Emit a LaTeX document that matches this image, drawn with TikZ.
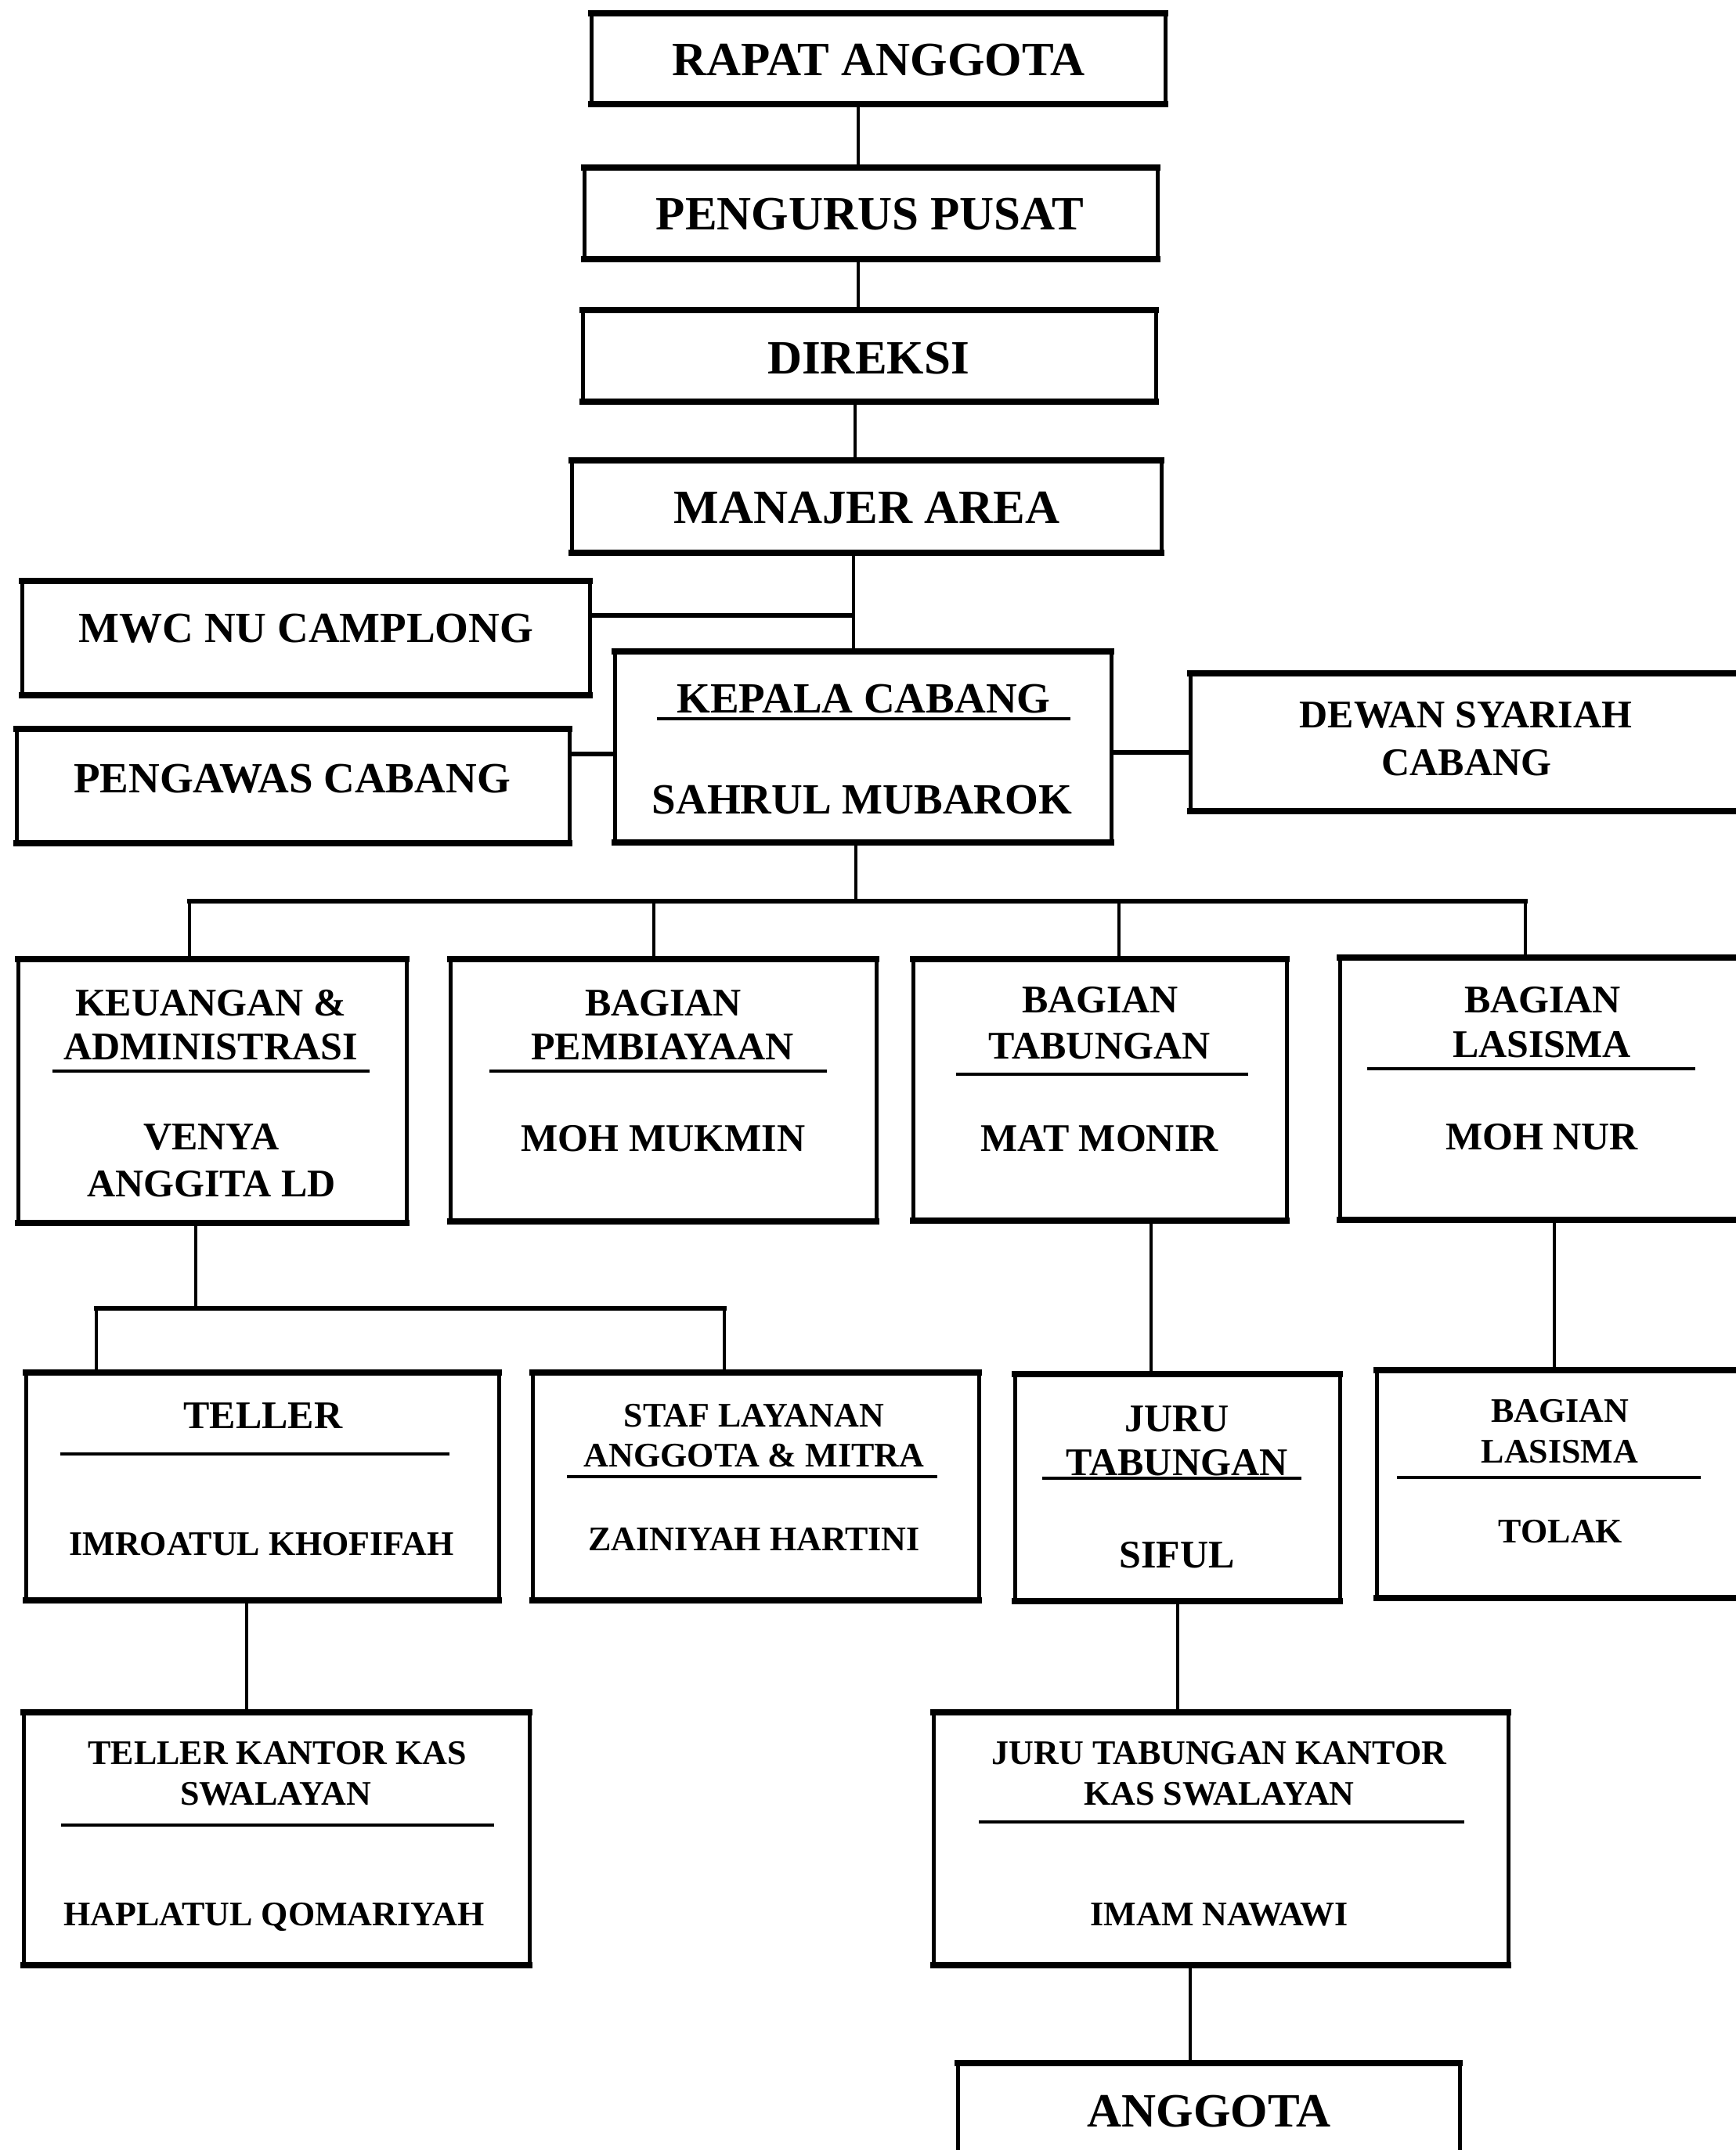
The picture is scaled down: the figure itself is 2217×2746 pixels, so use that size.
\documentclass[tikz,border=0pt]{standalone}
\usepackage{fontspec}
\setmainfont{Liberation Serif}
\newcommand\fA{\fontsize{18.3}{21}\selectfont\bfseries}
\newcommand\fB{\fontsize{16.5}{19}\selectfont\bfseries}
\newcommand\fC{\fontsize{15}{17}\selectfont\bfseries}
\newcommand\fD{\fontsize{13.2}{15}\selectfont\bfseries}
\newcommand\mybox[5]{%
  \node[box, minimum width={(#4-#2)*0.3pt}, minimum height={(#5-#3)*0.3pt}] (#1) at ({(#2+#4)/2},{(#3+#5)/2}) {};
  \draw[thickedge] (#1.north west) -- (#1.north east) (#1.south west) -- (#1.south east);}
\begin{document}
\begin{tikzpicture}[x=0.3pt,y=-0.3pt,
 box/.style={draw,line width=1.5pt,inner sep=0pt,outer sep=0pt},
 thickedge/.style={line width=2.4pt,line cap=rect},
 tA/.style={font=\fA,inner sep=0pt,anchor=base,yshift=-6pt},
 tB/.style={font=\fB,inner sep=0pt,anchor=base,yshift=-5.4pt},
 tC/.style={font=\fC,inner sep=0pt,anchor=base,yshift=-4.95pt},
 tD/.style={font=\fD,inner sep=0pt,anchor=base,yshift=-4.4pt},
 vl/.style={line width=1pt},
 hl/.style={line width=1.8pt},
 ul/.style={line width=1.4pt}]
\fill[white] (0,0) rectangle (2217,2746);
\useasboundingbox (0,0) rectangle (2217,2746);
\clip (0,0) rectangle (2217,2746);

% boxes
\mybox{ra}{755}{17}{1488}{133}
\mybox{pp}{746}{214}{1478}{331}
\mybox{dir}{744}{396}{1476}{513}
\mybox{ma}{730}{588}{1483}{706}
\mybox{mwc}{28}{742}{753}{888}
\mybox{kc}{785}{832}{1419}{1076}
\mybox{pc}{21}{931}{727}{1077}
\mybox{dsc}{1520}{860}{2240}{1036}
\mybox{keu}{23}{1225}{519}{1562}
\mybox{pem}{575}{1225}{1119}{1560}
\mybox{tab}{1166}{1225}{1643}{1559}
\mybox{las}{1711}{1223}{2240}{1558}
\mybox{tel}{33}{1753}{637}{2044}
\mybox{staf}{680}{1753}{1250}{2044}
\mybox{jt}{1296}{1755}{1711}{2045}
\mybox{lasb}{1758}{1750}{2240}{2041}
\mybox{tkk}{30}{2187}{676}{2510}
\mybox{jtk}{1192}{2187}{1926}{2510}
\mybox{ang}{1223}{2635}{1864}{2790}

% texts
\node[tA] (t1) at (1122,77) {RAPAT ANGGOTA};
\node[tA] (t2) at (1111,273) {PENGURUS PUSAT};
\node[tA] (t3) at (1109,457) {DIREKSI};
\node[tA] (t4) at (1107,648) {MANAJER AREA};
\node[tB] (t5) at (391,802) {MWC NU CAMPLONG};
\node[tB] (t6) at (1103,892) {KEPALA CABANG};
\node[tB] (t7) at (1101,1021) {SAHRUL MUBAROK};
\node[tB] (t8) at (373,994) {PENGAWAS CABANG};
\node[tC] (t9) at (1872,913) {DEWAN SYARIAH};
\node[tC] (t10) at (1873,974) {CABANG};
\node[tC] (t11) at (269,1281) {KEUANGAN \&};
\node[tC] (t12) at (269,1337) {ADMINISTRASI};
\node[tC] (t13) at (270,1452) {VENYA};
\node[tC] (t14) at (270,1512) {ANGGITA LD};
\node[tC] (t15) at (847,1281) {BAGIAN};
\node[tC] (t16) at (846,1337) {PEMBIAYAAN};
\node[tC] (t17) at (847,1454) {MOH MUKMIN};
\node[tC] (t18) at (1405,1277) {BAGIAN};
\node[tC] (t19) at (1404,1336) {TABUNGAN};
\node[tC] (t20) at (1404,1454) {MAT MONIR};
\node[tC] (t21) at (1970,1277) {BAGIAN};
\node[tC] (t22) at (1969,1334) {LASISMA};
\node[tC] (t23) at (1969,1452) {MOH NUR};
\node[tC] (t24) at (336,1808) {TELLER};
\node[tD] (t25) at (334,1972) {IMROATUL KHOFIFAH};
\node[tD] (t26) at (963,1808) {STAF LAYANAN};
\node[tD] (t27) at (963,1859) {ANGGOTA \& MITRA};
\node[tD] (t28) at (963,1966) {ZAINIYAH HARTINI};
\node[tC] (t29) at (1503,1812) {JURU};
\node[tC] (t30) at (1503,1868) {TABUNGAN};
\node[tC] (t31) at (1503,1986) {SIFUL};
\node[tD] (t32) at (1992,1802) {BAGIAN};
\node[tD] (t33) at (1992,1854) {LASISMA};
\node[tD] (t34) at (1993,1956) {TOLAK};
\node[tD] (t35) at (354,2239) {TELLER KANTOR KAS};
\node[tD] (t36) at (352,2291) {SWALAYAN};
\node[tD] (t37) at (350,2445) {HAPLATUL QOMARIYAH};
\node[tD] (t38) at (1557,2239) {JURU TABUNGAN KANTOR};
\node[tD] (t39) at (1557,2291) {KAS SWALAYAN};
\node[tD] (t40) at (1557,2445) {IMAM NAWAWI};
\node[tA] (t41) at (1544,2696) {ANGGOTA};

% underlines
\coordinate (u1a) at (839,918);  \coordinate (u1b) at (1367,918);
\coordinate (u2a) at (67,1368);  \coordinate (u2b) at (472,1368);
\coordinate (u3a) at (625,1368); \coordinate (u3b) at (1056,1368);
\coordinate (u4a) at (1221,1372); \coordinate (u4b) at (1594,1372);
\coordinate (u5a) at (1746,1365); \coordinate (u5b) at (2165,1365);
\coordinate (u6a) at (77,1857);  \coordinate (u6b) at (574,1857);
\coordinate (u7a) at (724,1886); \coordinate (u7b) at (1197,1886);
\coordinate (u8a) at (1331,1888); \coordinate (u8b) at (1662,1888);
\coordinate (u9a) at (1784,1887); \coordinate (u9b) at (2172,1887);
\coordinate (u10a) at (78,2331); \coordinate (u10b) at (631,2331);
\coordinate (u11a) at (1250,2327); \coordinate (u11b) at (1870,2327);
\foreach \i in {1,...,11} \draw[ul] (u\i a) -- (u\i b);

% connector reference points
\coordinate (c1) at (1096,0);
\coordinate (c2) at (1092,0);
\coordinate (cm) at (1090,786);
\coordinate (cp) at (0,963);
\coordinate (cd) at (0,961);
\coordinate (b0) at (1093,1151);
\coordinate (bL) at (242,1151);
\coordinate (b2) at (835,1151);
\coordinate (b3) at (1429,1151);
\coordinate (bR) at (1948,1151);
\coordinate (k0) at (250,1671);
\coordinate (kL) at (123,1671);
\coordinate (kR) at (925,1671);
\coordinate (x1) at (1470,0);
\coordinate (x2) at (1985,0);
\coordinate (x3) at (315,0);
\coordinate (x4) at (1504,0);
\coordinate (x5) at (1520,0);

% connectors
\draw[vl] (ra.south -| c1) -- (pp.north -| c1);
\draw[vl] (pp.south -| c1) -- (dir.north -| c1);
\draw[vl] (dir.south -| c2) -- (ma.north -| c2);
\draw[vl] (ma.south -| cm) -- (kc.north -| cm);
\draw[hl] (mwc.east |- cm) -- (cm);
\draw[hl] (pc.east |- cp) -- (kc.west |- cp);
\draw[hl] (kc.east |- cd) -- (dsc.west |- cd);
\draw[vl] (kc.south -| b0) -- (b0);
\draw[hl,line cap=rect] (bL) -- (bR);
\draw[vl] (bL) -- (keu.north -| bL);
\draw[vl] (b2) -- (pem.north -| b2);
\draw[vl] (b3) -- (tab.north -| b3);
\draw[vl] (bR) -- (las.north -| bR);
\draw[vl] (keu.south -| k0) -- (k0);
\draw[hl,line cap=rect] (kL) -- (kR);
\draw[vl] (kL) -- (tel.north -| kL);
\draw[vl] (kR) -- (staf.north -| kR);
\draw[vl] (tab.south -| x1) -- (jt.north -| x1);
\draw[vl] (las.south -| x2) -- (lasb.north -| x2);
\draw[vl] (tel.south -| x3) -- (tkk.north -| x3);
\draw[vl] (jt.south -| x4) -- (jtk.north -| x4);
\draw[vl] (jtk.south -| x5) -- (ang.north -| x5);
\end{tikzpicture}
\end{document}
